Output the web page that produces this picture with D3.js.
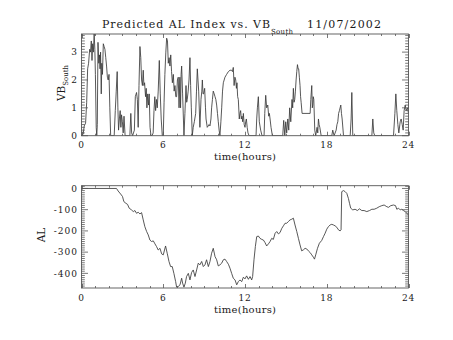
<!DOCTYPE html>
<html>
<head>
<meta charset="utf-8">
<script src="https://cdn.jsdelivr.net/npm/d3@7"></script>
<style>
  body { margin: 0; background: #fff; }
  text { font-family: "DejaVu Serif", serif; fill: #1a1a1a; }
</style>
</head>
<body>
<svg id="chart" width="453" height="340"></svg>
<script>
// Axis tick values
const hourTicks = [0, 6, 12, 18, 24];
const vbTickValues = [0, 1, 2, 3];
const alTickValues = [0, -100, -200, -300, -400];

// Southward IMF driver (VB_South), time in hours UT
const vbTime = [
  0.00, 0.12, 0.20, 0.30, 0.38, 0.45, 0.52, 0.60, 0.66, 0.72, 0.77, 0.82, 0.87, 0.93, 0.98, 1.02, 1.08, 1.12,
  1.16, 1.21, 1.27, 1.32, 1.36, 1.40, 1.45, 1.49, 1.54, 1.60, 1.66, 1.72, 1.78, 1.84, 1.90, 1.96, 2.02, 2.08, 2.14,
  2.40, 2.48, 2.55, 2.62, 2.67, 2.72, 2.78, 2.84, 2.89, 2.94, 3.00, 3.06, 3.12, 3.20,
  3.55, 3.62, 3.68, 3.75, 3.88, 3.95, 4.04, 4.10, 4.16, 4.22, 4.29, 4.35, 4.41, 4.47, 4.53, 4.58, 4.63, 4.70,
  4.75, 4.80, 4.86, 4.92, 4.97, 5.03, 5.10, 5.18, 5.26, 5.32, 5.38, 5.44, 5.50, 5.56, 5.63, 5.71, 5.78, 5.85, 5.93,
  6.00, 6.06, 6.12, 6.19, 6.25, 6.31, 6.37, 6.43, 6.49, 6.55, 6.61, 6.67, 6.74, 6.80, 6.86, 6.92, 6.98, 7.04,
  7.10, 7.16, 7.22, 7.27, 7.31, 7.35, 7.42, 7.52, 7.59, 7.67, 7.72, 7.76, 7.83, 7.89, 7.96, 8.01, 8.06, 8.13,
  8.20, 8.28, 8.38, 8.44, 8.50, 8.55, 8.60, 8.69, 8.77, 8.83, 8.87, 8.92, 8.96, 9.04, 9.10, 9.14, 9.23, 9.30,
  9.36, 9.43, 9.50, 9.55, 9.61, 9.67, 9.74, 9.80, 9.86, 9.92, 9.98, 10.04, 10.10, 10.16,
  10.23, 10.29, 10.35, 10.41, 10.53, 10.65, 10.78, 10.90, 11.02, 11.08, 11.14, 11.20, 11.26, 11.32, 11.37, 11.41,
  11.46, 11.51, 11.58, 11.63, 11.68, 11.73, 11.78, 11.83, 11.88, 11.94, 12.00, 12.05, 12.10, 12.16, 12.22, 12.30,
  12.81, 12.86, 12.91, 12.98, 13.05, 13.15, 13.25, 13.40, 13.45, 13.52, 13.59, 13.67, 13.74, 13.79, 13.84, 13.91, 14.01,
  14.77, 14.84, 14.92, 14.99, 15.06, 15.14, 15.21, 15.28, 15.36, 15.45, 15.50, 15.55, 15.60, 15.65, 15.70, 15.75,
  15.80, 15.85, 15.90, 15.94, 15.99, 16.04, 16.08, 16.12, 16.19, 16.78, 16.83, 16.90, 16.94, 16.97, 17.01, 17.05,
  17.12, 17.19, 17.29, 17.34, 17.39, 17.44, 17.49, 17.59,
  18.37, 18.44, 18.54, 18.69, 18.75, 18.81, 18.87, 18.93, 19.03, 19.08, 19.13, 19.23,
  19.72, 19.79, 19.84, 19.91, 21.31, 21.38, 21.45, 21.53,
  22.90, 23.00, 23.07, 23.14, 23.22, 23.29, 23.39, 23.46, 23.54, 23.61, 23.68, 23.76, 23.83, 23.93, 24.00
];
const vbSouth = [
  0.00, 0.05, 0.35, 0.45, 1.20, 2.40, 2.60, 3.10, 3.00, 3.40, 2.70, 3.30, 3.00, 3.65, 3.10, 2.20, 0.30, 0.00,
  0.40, 3.35, 2.60, 2.90, 2.40, 3.00, 1.50, 2.60, 2.20, 3.30, 3.20, 3.10, 2.80, 2.50, 2.10, 2.00, 2.20, 1.00, 0.00,
  0.00, 0.90, 1.60, 2.30, 1.00, 0.20, 0.60, 0.90, 0.30, 0.75, 0.50, 0.10, 0.70, 0.00,
  0.00, 0.80, 0.10, 0.00, 0.20, 1.40, 1.55, 1.30, 0.30, 1.80, 3.20, 2.80, 2.00, 1.80, 2.35, 1.80, 1.90, 1.40,
  1.70, 1.00, 1.50, 1.10, 1.50, 0.30, 0.00, 0.00, 0.10, 0.90, 1.40, 0.90, 1.30, 1.00, 1.60, 2.70, 1.50, 0.60, 0.00,
  0.00, 1.20, 2.20, 3.00, 3.50, 3.40, 2.60, 2.80, 2.50, 2.90, 2.30, 1.90, 2.20, 1.60, 1.80, 1.40, 1.40, 2.00,
  2.10, 1.00, 2.10, 1.00, 2.20, 2.50, 1.50, 0.00, 0.80, 1.80, 1.20, 1.30, 1.60, 2.00, 2.80, 1.80, 1.00, 0.00,
  0.30, 0.50, 0.80, 1.60, 2.40, 2.00, 1.60, 0.30, 1.30, 1.60, 2.00, 1.50, 1.50, 1.70, 1.00, 0.60, 0.30, 0.35,
  0.40, 0.35, 0.60, 1.00, 1.30, 1.60, 1.50, 1.40, 1.30, 1.10, 0.80, 0.50, 0.20, 0.00,
  0.50, 1.00, 1.60, 1.90, 2.10, 2.20, 2.30, 2.35, 2.35, 2.30, 2.45, 1.80, 2.10, 2.00, 1.70, 1.90,
  1.40, 1.30, 0.60, 0.80, 0.90, 0.60, 0.70, 0.50, 0.80, 0.40, 0.30, 0.50, 0.60, 0.30, 0.10, 0.00,
  0.00, 0.60, 1.00, 1.40, 0.50, 0.20, 0.00, 0.00, 0.80, 1.45, 1.00, 1.10, 0.70, 0.80, 0.60, 0.30, 0.00,
  0.00, 0.55, 0.00, 0.50, 0.10, 0.60, 0.20, 1.00, 0.50, 1.30, 1.00, 1.70, 1.20, 1.30, 1.60, 2.00,
  2.30, 2.55, 2.40, 2.40, 2.10, 1.80, 1.40, 1.20, 0.80, 0.80, 1.30, 1.80, 1.00, 1.10, 1.40, 1.30,
  0.20, 0.00, 0.30, 0.10, 0.60, 0.40, 0.30, 0.00,
  0.00, 0.20, 0.00, 0.20, 0.40, 0.50, 0.80, 0.90, 1.10, 0.80, 0.60, 0.00,
  0.00, 0.60, 1.55, 0.00, 0.00, 0.60, 0.10, 0.00,
  0.00, 0.80, 1.50, 0.90, 0.40, 0.10, 0.50, 0.60, 0.40, 0.20, 0.90, 1.10, 0.90, 1.00, 0.80
];

// Predicted AL index (nT), time in hours UT
const alTime = [
  0.00, 2.57, 2.69, 2.87, 3.01, 3.11, 3.26, 3.38, 3.50, 3.67, 3.80, 3.92, 4.04, 4.16, 4.29, 4.41, 4.53, 4.65,
  4.78, 4.90, 5.02, 5.14, 5.27, 5.39, 5.51, 5.63, 5.76, 5.88, 6.00, 6.17, 6.29, 6.42, 6.54, 6.66, 6.78, 6.91,
  6.98, 7.10, 7.23, 7.35, 7.42, 7.52, 7.62, 7.71, 7.84, 7.96, 8.08, 8.20, 8.33, 8.45, 8.57, 8.69, 8.82, 8.94,
  9.06, 9.18, 9.31, 9.43, 9.55, 9.67, 9.80, 9.92, 10.04, 10.16, 10.29, 10.41, 10.53, 10.65, 10.78, 10.90,
  11.02, 11.14, 11.27, 11.39, 11.51, 11.63, 11.76, 11.88, 12.00, 12.12, 12.25, 12.37, 12.49, 12.56, 12.66,
  12.76, 12.86, 12.98, 13.10, 13.23, 13.35, 13.47, 13.59, 13.72, 13.84, 13.96, 14.08, 14.21, 14.33, 14.45,
  14.57, 14.70, 14.82, 14.94, 15.06, 15.18, 15.31, 15.43, 15.55, 15.67, 15.80, 15.92, 16.04, 16.16, 16.29,
  16.41, 16.53, 16.65, 16.78, 16.90, 17.02, 17.10, 17.19, 17.32, 17.46, 17.63, 17.76, 17.88, 18.00, 18.12,
  18.25, 18.37, 18.49, 18.61, 18.74, 18.86, 18.98, 19.05, 19.10, 19.23, 19.35, 19.47, 19.59, 19.67, 19.76,
  19.91, 20.08, 20.25, 20.40, 20.57, 20.74, 20.94, 21.14, 21.31, 21.48, 21.67, 21.85, 22.04, 22.21, 22.41,
  22.53, 22.70, 22.90, 23.05, 23.14, 23.27, 23.39, 23.51, 23.63, 23.76, 23.88, 24.00
];
const alIndex = [
  0, 0, -12, -26, -38, -62, -70, -75, -93, -101, -109, -104, -117, -112, -120, -114, -148, -180,
  -203, -219, -243, -250, -247, -261, -274, -290, -282, -308, -313, -271, -305, -344, -368, -368, -400, -439,
  -465, -462, -454, -423, -446, -465, -446, -415, -400, -431, -396, -384, -415, -384, -352, -360, -344, -368,
  -360, -336, -368, -344, -305, -282, -321, -336, -365, -360, -352, -336, -333, -344, -357, -376,
  -400, -423, -431, -454, -439, -431, -439, -418, -426, -412, -428, -415, -431, -415, -336,
  -274, -227, -224, -235, -240, -243, -255, -271, -261, -250, -235, -240, -211, -203, -214,
  -208, -188, -176, -164, -164, -156, -148, -145, -140, -172, -203, -235, -266, -294, -289,
  -282, -285, -294, -302, -313, -324, -333, -313, -282, -258, -245, -227, -211, -192, -180,
  -172, -169, -172, -176, -183, -195, -200, -195, -15, -10, -15, -23, -47, -70, -93,
  -101, -98, -104, -96, -104, -104, -109, -104, -98, -98, -93, -86, -81, -78, -86,
  -89, -81, -78, -81, -98, -93, -101, -98, -104, -109, -117, -125
];

const svg = d3.select("#chart");
const axisColor = "#555";
const lineColor = "#3a3a3a";

// Shared horizontal extent of both panels
const xLeft = 81.5, xRight = 408.5;

function drawPanel(opt) {
  const x = d3.scaleLinear().domain([0, 24]).range([xLeft, xRight]);
  const y = d3.scaleLinear().domain(opt.yDomain).range([opt.bottom, opt.top]);
  const g = svg.append("g");

  // Data trace, clipped to the frame
  const clipId = "clip-" + opt.name;
  svg.append("clipPath").attr("id", clipId)
    .append("rect").attr("x", xLeft).attr("y", opt.top)
    .attr("width", xRight - xLeft).attr("height", opt.bottom - opt.top);

  const line = d3.line().x((d, i) => x(opt.times[i])).y(d => y(d));
  g.append("path")
    .datum(opt.values)
    .attr("clip-path", `url(#${clipId})`)
    .attr("fill", "none")
    .attr("stroke", lineColor)
    .attr("stroke-width", 0.85)
    .attr("stroke-linejoin", "round")
    .attr("d", line);

  // Frame
  g.append("rect")
    .attr("x", xLeft).attr("y", opt.top)
    .attr("width", xRight - xLeft).attr("height", opt.bottom - opt.top)
    .attr("fill", "none").attr("stroke", axisColor).attr("stroke-width", 0.9);

  // Inward ticks on all four sides
  const xMinor = d3.range(0, 25, 1);
  const yMinor = d3.range(opt.minorStart, opt.minorEnd + 1e-9, opt.minorStep)
    .filter(v => v >= opt.yDomain[0] - 1e-9 && v <= opt.yDomain[1] + 1e-9);
  const xLenMajor = 4, xLenMinor = 2, yLenMajor = 6.5, yLenMinor = 3.3;
  const tickG = g.append("g").attr("stroke", axisColor).attr("stroke-width", 0.8);

  xMinor.forEach(v => {
    const len = hourTicks.includes(v) ? xLenMajor : xLenMinor;
    const px = Math.round(x(v)) + 0.5;
    tickG.append("line").attr("x1", px).attr("x2", px).attr("y1", opt.bottom).attr("y2", opt.bottom - len);
    tickG.append("line").attr("x1", px).attr("x2", px).attr("y1", opt.top).attr("y2", opt.top + len);
  });
  yMinor.forEach(v => {
    const isMajor = opt.yTicks.some(t => Math.abs(t - v) < 1e-6);
    const len = isMajor ? yLenMajor : yLenMinor;
    const py = y(v);
    tickG.append("line").attr("x1", xLeft).attr("x2", xLeft + len).attr("y1", py).attr("y2", py);
    tickG.append("line").attr("x1", xRight).attr("x2", xRight - len).attr("y1", py).attr("y2", py);
  });

  // Tick labels
  g.selectAll(".xl").data(hourTicks).enter().append("text")
    .attr("x", d => x(d)).attr("y", opt.bottom + 12.6)
    .attr("text-anchor", "middle").attr("font-size", 9)
    .style("letter-spacing", "0.8px")
    .text(d => d);
  g.selectAll(".yl").data(opt.yTicks).enter().append("text")
    .attr("x", xLeft - 3.5).attr("y", d => y(d) + 3.2)
    .attr("text-anchor", "end").attr("font-size", 9)
    .style("letter-spacing", "1px")
    .text(d => d);

  // X title
  g.append("text")
    .attr("x", (xLeft + xRight) / 2).attr("y", opt.bottom + 24.6)
    .attr("text-anchor", "middle").attr("font-size", 10)
    .attr("textLength", 62).attr("lengthAdjust", "spacing")
    .text("time(hours)");
  return { x, y };
}

// Upper panel: VB_South
drawPanel({
  name: "vb", top: 34, bottom: 135.7, yDomain: [0, 3.65],
  yTicks: vbTickValues, minorStart: 0, minorEnd: 3.65, minorStep: 0.1,
  times: vbTime, values: vbSouth
});

// Lower panel: AL
drawPanel({
  name: "al", top: 185.7, bottom: 288, yDomain: [-469, 13],
  yTicks: alTickValues, minorStart: -460, minorEnd: 10, minorStep: 10,
  times: alTime, values: alIndex
});

// Title with subscript
const title = svg.append("g");
title.append("text").attr("x", 102).attr("y", 28.3).attr("font-size", 11)
  .attr("textLength", 168).attr("lengthAdjust", "spacing")
  .text("Predicted AL Index vs. VB");
title.append("text").attr("x", 271).attr("y", 34).attr("font-size", 7)
  .attr("textLength", 22).attr("lengthAdjust", "spacing")
  .text("South");
title.append("text").attr("x", 307).attr("y", 28.3).attr("font-size", 11)
  .attr("textLength", 74).attr("lengthAdjust", "spacing")
  .text("11/07/2002");

// Y titles
const vbLabel = svg.append("text")
  .attr("transform", "translate(64.5,83) rotate(-90)")
  .attr("text-anchor", "middle").attr("font-size", 10.5);
vbLabel.append("tspan").text("VB");
vbLabel.append("tspan").attr("font-size", 7).attr("dy", 3).text("South");

svg.append("text")
  .attr("transform", "translate(44.5,235) rotate(-90)")
  .attr("text-anchor", "middle").attr("font-size", 10.5)
  .text("AL");
</script>
</body>
</html>
